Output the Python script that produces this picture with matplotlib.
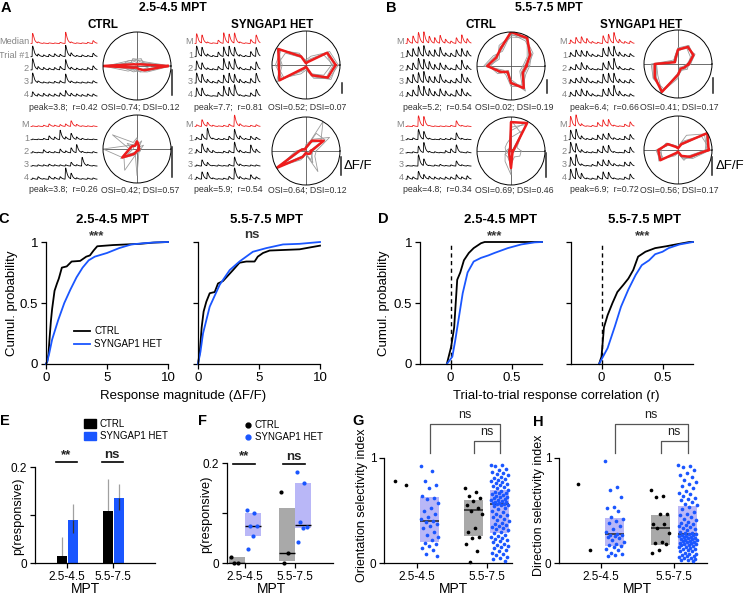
import numpy as np
import matplotlib
matplotlib.use("Agg")
import matplotlib.pyplot as plt
from matplotlib.patches import Patch
from matplotlib.lines import Line2D

plt.rcParams['font.family'] = ['Liberation Sans', 'DejaVu Sans']

W, H = 748, 597
BLUE = '#1a56ff'
LAV = '#b9b7f7'
GREY = '#a9a9a9'
RED = '#ee1c1c'

# ---------------- data ----------------
dirs = np.arange(0, 360, 30)          # stimulus directions (deg)
row_long = ["Median", "Trial #1", "2", "3", "4"]
row_short = ["M", "1", "2", "3", "4"]

# A: 2.5-4.5 MPT example cells (responses per direction; median + 4 trials)
a_ctrl_top_med = [0.9, 0.1, 0.05, 0.05, 0.05, 0.1, 1.0, 0.1, 0.05, 0.05, 0.1, 0.25]
a_ctrl_top_trials = [[0.95, 0.2, 0.15, 0.2, 0.25, 0.2, 1.0, 0.3, 0.1, 0.15, 0.1, 0.3],
                     [1.0, 0.25, 0.2, 0.15, 0.2, 0.3, 0.9, 0.2, 0.15, 0.1, 0.2, 0.35],
                     [0.9, 0.15, 0.1, 0.1, 0.15, 0.2, 0.8, 0.15, 0.1, 0.1, 0.1, 0.2],
                     [0.4, 0.2, 0.25, 0.2, 0.2, 0.3, 0.5, 0.25, 0.2, 0.15, 0.2, 0.2]]
a_het_top_med = [0.87, 0.72, 0.1, 0.05, 0.29, 0.94, 0.8, 0.9, 0.1, 0.05, 0.35, 0.74]
a_het_top_trials = [[0.95, 0.8, 0.2, 0.1, 0.4, 0.85, 0.9, 0.8, 0.15, 0.1, 0.45, 0.8],
                    [0.8, 0.6, 0.15, 0.1, 0.3, 1.0, 0.7, 0.95, 0.2, 0.1, 0.3, 0.7],
                    [0.9, 0.75, 0.3, 0.15, 0.25, 0.7, 0.85, 0.75, 0.3, 0.15, 0.4, 0.85],
                    [0.75, 0.7, 0.1, 0.05, 0.35, 0.9, 0.75, 1.0, 0.1, 0.1, 0.3, 0.6]]
a_ctrl_bot_med = [0.05, 0.05, 0.1, 0.2, 0.1, 0.15, 0.2, 0.45, 0.15, 0.05, 0.05, 0.05]
a_ctrl_bot_trials = [[0.05, 0.05, 0.1, 0.3, 0.2, 0.75, 0.2, 0.5, 0.2, 0.1, 0.05, 0.05],
                     [0.1, 0.05, 0.25, 0.1, 0.1, 0.3, 0.15, 0.4, 0.65, 0.1, 0.05, 0.1],
                     [0.05, 0.1, 0.1, 0.15, 0.1, 0.1, 0.1, 0.3, 0.1, 0.7, 0.1, 0.05],
                     [0.1, 0.2, 0.05, 0.25, 0.15, 0.2, 0.9, 0.45, 0.1, 0.05, 0.1, 0.1]]
a_het_bot_med = [0.15, 0.6, 0.35, 0.1, 0.05, 0.1, 0.2, 1.0, 0.2, 0.05, 0.1, 0.15]
a_het_bot_trials = [[0.2, 0.5, 1.0, 0.1, 0.1, 0.1, 0.3, 0.9, 0.3, 0.1, 0.3, 0.2],
                    [0.3, 0.8, 0.4, 0.2, 0.05, 0.15, 0.2, 0.95, 0.2, 0.1, 0.7, 0.3],
                    [0.1, 0.55, 0.3, 0.05, 0.1, 0.05, 0.15, 0.8, 0.15, 0.05, 0.1, 0.1],
                    [0.2, 0.65, 0.6, 0.1, 0.05, 0.1, 0.25, 1.0, 0.2, 0.1, 0.4, 0.2]]

# B: 5.5-7.5 MPT example cells
b_ctrl_top_med = [0.45, 0.65, 0.95, 1.0, 0.6, 0.5, 0.7, 0.35, 0.2, 0.5, 0.75, 0.4]
b_ctrl_top_trials = [[0.55, 0.7, 0.85, 0.95, 0.5, 0.6, 0.8, 0.3, 0.3, 0.6, 0.7, 0.5],
                     [0.4, 0.6, 1.0, 0.9, 0.7, 0.45, 0.6, 0.4, 0.15, 0.45, 0.85, 0.35],
                     [0.5, 0.75, 0.9, 1.0, 0.55, 0.55, 0.75, 0.25, 0.25, 0.4, 0.8, 0.45],
                     [0.35, 0.55, 0.95, 0.85, 0.65, 0.4, 0.65, 0.45, 0.2, 0.55, 0.65, 0.3]]
b_het_top_med = [0.3, 0.5, 0.55, 0.4, 0.15, 0.1, 0.65, 0.75, 0.9, 0.3, 0.15, 0.2]
b_het_top_trials = [[0.35, 0.55, 0.5, 0.45, 0.2, 0.15, 0.7, 0.8, 0.85, 0.35, 0.2, 0.25],
                    [0.25, 0.45, 0.6, 0.35, 0.1, 0.1, 0.6, 0.7, 0.95, 0.25, 0.1, 0.15],
                    [0.3, 0.4, 0.5, 0.4, 0.15, 0.2, 0.75, 0.8, 0.8, 0.3, 0.2, 0.3],
                    [0.35, 0.5, 0.6, 0.45, 0.2, 0.1, 0.6, 0.65, 0.9, 0.4, 0.15, 0.2]]
b_ctrl_bot_med = [0.05, 0.1, 0.95, 0.85, 0.05, 0.05, 0.05, 0.05, 0.1, 0.5, 0.08, 0.05]
b_ctrl_bot_trials = [[0.1, 0.15, 0.9, 0.7, 0.1, 0.05, 0.1, 0.1, 0.15, 0.6, 0.1, 0.05],
                     [0.05, 0.1, 0.6, 0.9, 0.1, 0.1, 0.05, 0.2, 0.35, 0.7, 0.05, 0.1],
                     [0.05, 0.05, 1.0, 0.6, 0.05, 0.1, 0.15, 0.05, 0.1, 0.45, 0.1, 0.05],
                     [0.3, 0.2, 0.7, 0.4, 0.25, 0.2, 0.15, 0.2, 0.2, 0.4, 0.2, 0.3]]
b_het_bot_med = [0.9, 1.0, 0.2, 0.05, 0.1, 0.35, 0.58, 0.6, 0.1, 0.05, 0.2, 0.4]
b_het_bot_trials = [[0.85, 0.9, 0.3, 0.1, 0.15, 0.4, 0.5, 0.55, 0.15, 0.1, 0.3, 0.45],
                    [0.95, 0.8, 0.25, 0.1, 0.1, 0.3, 0.6, 0.65, 0.1, 0.05, 0.25, 0.5],
                    [0.8, 1.0, 0.15, 0.05, 0.15, 0.4, 0.55, 0.5, 0.2, 0.1, 0.35, 0.35],
                    [0.9, 0.95, 0.5, 0.1, 0.1, 0.3, 0.65, 0.6, 0.1, 0.05, 0.2, 0.45]]

# C: cumulative distributions of response magnitude
c_early_ctrl_x = [0, 0.1, 0.2, 0.3, 0.4, 0.5, 0.7, 0.9, 1.05, 1.3, 1.7, 2.1, 2.8, 3.3, 3.6, 3.9, 4.2, 5.5, 7.7, 8.8, 10]
c_early_ctrl_y = [0, 0.02, 0.08, 0.22, 0.35, 0.45, 0.6, 0.66, 0.7, 0.79, 0.8, 0.84, 0.845, 0.88, 0.89, 0.93, 0.965, 0.975, 0.985, 0.995, 1.0]
c_early_het_x = [0, 0.1, 0.25, 0.5, 1.0, 1.5, 2.0, 2.5, 3.0, 3.5, 4.0, 5.0, 6.0, 7.0, 8.0, 9.0, 10]
c_early_het_y = [0, 0.02, 0.08, 0.2, 0.36, 0.5, 0.61, 0.71, 0.79, 0.85, 0.88, 0.91, 0.95, 0.98, 0.99, 0.997, 1.0]
c_late_ctrl_x = [0, 0.15, 0.3, 0.46, 0.68, 0.96, 1.37, 1.64, 2.05, 2.87, 3.4, 3.96, 4.64, 4.9, 5.33, 5.87, 8.33, 9.15, 10]
c_late_ctrl_y = [0, 0.1, 0.3, 0.43, 0.51, 0.58, 0.59, 0.66, 0.68, 0.77, 0.83, 0.84, 0.84, 0.88, 0.91, 0.93, 0.94, 0.955, 0.97]
c_late_het_x = [0, 0.2, 0.41, 0.96, 1.78, 2.6, 3.4, 4.5, 5.6, 6.97, 8.33, 10]
c_late_het_y = [0, 0.1, 0.25, 0.47, 0.65, 0.77, 0.84, 0.92, 0.95, 0.98, 0.985, 1.0]

# D: cumulative distributions of trial-to-trial correlation
d_early_ctrl_x = [-0.03, 0.005, 0.03, 0.055, 0.08, 0.11, 0.15, 0.19, 0.25, 0.28, 0.75]
d_early_ctrl_y = [0, 0.14, 0.3, 0.69, 0.75, 0.85, 0.91, 0.95, 0.99, 1.0, 1.0]
d_early_het_x = [-0.03, 0.015, 0.04, 0.07, 0.1, 0.14, 0.19, 0.25, 0.31, 0.36, 0.47, 0.58, 0.69, 0.75]
d_early_het_y = [0, 0.06, 0.2, 0.39, 0.58, 0.75, 0.84, 0.87, 0.89, 0.91, 0.95, 0.98, 0.997, 1.0]
d_late_ctrl_x = [-0.02, 0.0, 0.02, 0.05, 0.09, 0.13, 0.18, 0.22, 0.26, 0.3, 0.36, 0.44, 0.53, 0.61, 0.72, 0.75]
d_late_ctrl_y = [0, 0.06, 0.3, 0.4, 0.5, 0.59, 0.65, 0.7, 0.77, 0.88, 0.92, 0.95, 0.965, 0.98, 1.0, 1.0]
d_late_het_x = [-0.02, 0.05, 0.11, 0.16, 0.22, 0.28, 0.33, 0.39, 0.44, 0.5, 0.55, 0.64, 0.75]
d_late_het_y = [0, 0.13, 0.31, 0.47, 0.61, 0.73, 0.81, 0.85, 0.9, 0.92, 0.95, 0.98, 1.0]

# E: fraction responsive (mean with error range)
groups = ["2.5-4.5", "5.5-7.5"]
e_ctrl = [0.015, 0.108]
e_het = [0.09, 0.135]
e_ctrl_lo = [0.0, 0.045]
e_ctrl_hi = [0.054, 0.175]
e_het_lo = [0.062, 0.11]
e_het_hi = [0.123, 0.165]

# F: fraction responsive per animal, box = (q1, median, q3)
f_ctrl_pts = [[0.012, 0.0, 0.0], [0.142, 0.02, 0.0]]
f_het_pts = [[0.106, 0.101, 0.075, 0.074, 0.054, 0.028], [0.183, 0.16, 0.083, 0.072, 0.071, 0.043]]
f_ctrl_box = [(0.0, 0.0, 0.012), (0.004, 0.02, 0.111)]
f_het_box = [(0.054, 0.074, 0.1), (0.07, 0.076, 0.16)]

# G: orientation selectivity index per cell
g_ctrl_early = [0.78, 0.74]
g_het_early = [0.92, 0.88, 0.78, 0.74, 0.71, 0.64, 0.62, 0.61, 0.57, 0.52, 0.5, 0.47, 0.44, 0.42, 0.40,
               0.39, 0.37, 0.35, 0.33, 0.30, 0.27, 0.25, 0.22, 0.19, 0.18, 0.16, 0.14, 0.12, 0.09, 0.07]
g_ctrl_late = [0.71, 0.68, 0.64, 0.62, 0.59, 0.55, 0.52, 0.5, 0.47, 0.33, 0.3, 0.25, 0.24, 0.18, 0.11, 0.01]
g_het_late = [0.93, 0.93, 0.92, 0.90, 0.89, 0.87, 0.86, 0.85, 0.84, 0.82, 0.81, 0.80, 0.79, 0.78, 0.77,
              0.76, 0.75, 0.74, 0.73, 0.72, 0.71, 0.70, 0.69, 0.68, 0.67, 0.67, 0.66, 0.65, 0.64, 0.63,
              0.63, 0.62, 0.61, 0.60, 0.60, 0.59, 0.58, 0.58, 0.57, 0.57, 0.56, 0.56, 0.55, 0.55, 0.54,
              0.52, 0.51, 0.50, 0.49, 0.47, 0.46, 0.45, 0.44, 0.42, 0.41, 0.40, 0.38, 0.37, 0.36, 0.35,
              0.34, 0.33, 0.32, 0.31, 0.30, 0.29, 0.27, 0.26, 0.25, 0.24, 0.23, 0.22, 0.21, 0.20, 0.18,
              0.17, 0.16, 0.15, 0.14, 0.12, 0.11, 0.10, 0.09, 0.08, 0.06, 0.05, 0.04, 0.02]
g_box_ctrl = [None, (0.257, 0.505, 0.6)]
g_box_het = [(0.2, 0.4, 0.63), (0.285, 0.56, 0.695)]

# H: direction selectivity index per cell
h_ctrl_early = [0.75, 0.12]
h_het_early = [0.97, 0.72, 0.7, 0.63, 0.53, 0.52, 0.5, 0.44, 0.42, 0.40, 0.38, 0.35, 0.32, 0.30, 0.28, 0.27,
               0.27, 0.26, 0.25, 0.24, 0.22, 0.2, 0.18, 0.17, 0.16, 0.15, 0.13, 0.12, 0.1, 0.09, 0.08, 0.07]
h_ctrl_late = [0.70, 0.64, 0.63, 0.47, 0.47, 0.37, 0.37, 0.33, 0.29, 0.20, 0.19, 0.18, 0.12, 0.10]
h_het_late = [0.93, 0.92, 0.91, 0.89, 0.86, 0.84, 0.82, 0.79, 0.77, 0.75, 0.73, 0.71, 0.69, 0.67, 0.66,
              0.64, 0.62, 0.61, 0.60, 0.58, 0.56, 0.55, 0.53, 0.51, 0.49, 0.47, 0.46, 0.44, 0.42, 0.41,
              0.39, 0.38, 0.37, 0.36, 0.35, 0.34, 0.33, 0.32, 0.31, 0.30, 0.29, 0.29, 0.28, 0.28, 0.27,
              0.27, 0.26, 0.26, 0.25, 0.25, 0.24, 0.24, 0.23, 0.23, 0.22, 0.22, 0.21, 0.21, 0.20, 0.20,
              0.19, 0.19, 0.18, 0.18, 0.17, 0.17, 0.16, 0.15, 0.15, 0.14, 0.13, 0.13, 0.12, 0.11, 0.11,
              0.10, 0.09, 0.09, 0.08, 0.07, 0.07, 0.06, 0.05, 0.05, 0.04, 0.03, 0.03, 0.02]
h_box_ctrl = [None, (0.17, 0.33, 0.457)]
h_box_het = [(0.16, 0.276, 0.43), (0.16, 0.276, 0.54)]

# ---------------- helpers ----------------
fig = plt.figure(figsize=(W / 100, H / 100), dpi=100)


def rect(x0, y0, x1, y1):
    return [x0 / W, 1 - y1 / H, (x1 - x0) / W, (y1 - y0) / H]


def ftext(x, y, s, **kw):
    kw.setdefault('ha', 'center')
    kw.setdefault('va', 'center')
    fig.text(x / W, 1 - y / H, s, **kw)


t = np.linspace(0, 12, 720)


def kernel(s):
    s = np.clip(s, 0, None)
    return np.where(s > 0, (1 - np.exp(-s / 0.06)) * np.exp(-s / 0.3), 0.0)


KMAX = kernel(t).max()


def trace(amps):
    return sum(a * kernel(t - i - 0.2) for i, a in enumerate(amps)) / KMAX


def add_traces(x0, x1, base, med, trials, labels):
    unit = 13.2
    ax = fig.add_axes(rect(x0, base - unit, x1, base + 4.25 * unit))
    ax.set_xlim(0, 12)
    ax.set_ylim(-4.25, 1.0)
    ax.axis('off')
    scale = max(np.max(trials), np.max(med))
    for r, amps in enumerate([med] + list(trials)):
        y = -r + 0.85 * trace(np.array(amps) / scale)
        ax.plot(t, y, color=RED if r == 0 else 'black', lw=0.6, clip_on=False)
        ax.text(-0.35, -r + 0.12, labels[r], ha='right', va='center', fontsize=6.6, color='#858585')


def add_polar(cx, cy, med, trials):
    R = 34
    ax = fig.add_axes(rect(cx - R, cy - R, cx + R, cy + R), projection='polar')
    th = np.deg2rad(np.append(dirs, dirs[0]))
    rmax = max(np.max(trials), np.max(med)) * 1.0
    ax.plot([0, 0, np.pi], [rmax, 0, rmax], color='#555555', lw=0.6)
    ax.plot([np.pi / 2, 0, 3 * np.pi / 2], [rmax, 0, rmax], color='#555555', lw=0.6)
    for tr in trials:
        ax.plot(th, np.append(tr, tr[0]), color='#9b9b9b', lw=0.6)
    ax.plot(th, np.append(med, med[0]), color=RED, lw=1.8)
    ax.set_ylim(0, rmax)
    ax.set_xticks([])
    ax.set_yticks([])
    ax.grid(False)
    ax.spines['polar'].set_linewidth(0.7)


cells = [
    dict(tr=(31, 97), base=43.5, med=a_ctrl_top_med, trials=a_ctrl_top_trials, labels=row_long,
         pol=(137, 66), caps=("peak=3.8;  r=0.42", "OSI=0.74; DSI=0.12"), capx=(63, 140), capy=107),
    dict(tr=(195, 260), base=43.5, med=a_het_top_med, trials=a_het_top_trials, labels=row_short,
         pol=(306, 65), caps=("peak=7.7;  r=0.81", "OSI=0.52; DSI=0.07"), capx=(228, 307), capy=107),
    dict(tr=(31, 97), base=126.5, med=a_ctrl_bot_med, trials=a_ctrl_bot_trials, labels=row_short,
         pol=(137, 149), caps=("peak=3.8;  r=0.26", "OSI=0.42; DSI=0.57"), capx=(63, 140), capy=190),
    dict(tr=(195, 260), base=126.5, med=a_het_bot_med, trials=a_het_bot_trials, labels=row_short,
         pol=(306, 151), caps=("peak=5.9;  r=0.54", "OSI=0.64; DSI=0.12"), capx=(228, 307), capy=190),
    dict(tr=(406, 471), base=43.5, med=b_ctrl_top_med, trials=b_ctrl_top_trials, labels=row_short,
         pol=(511, 66), caps=("peak=5.2;  r=0.54", "OSI=0.02; DSI=0.19"), capx=(437, 514), capy=107),
    dict(tr=(569, 634), base=43.5, med=b_het_top_med, trials=b_het_top_trials, labels=row_short,
         pol=(678, 64), caps=("peak=6.4;  r=0.66", "OSI=0.41; DSI=0.17"), capx=(604, 679), capy=107),
    dict(tr=(406, 471), base=126.5, med=b_ctrl_bot_med, trials=b_ctrl_bot_trials, labels=row_short,
         pol=(511, 151), caps=("peak=4.8;  r=0.34", "OSI=0.69; DSI=0.46"), capx=(437, 514), capy=190),
    dict(tr=(569, 634), base=126.5, med=b_het_bot_med, trials=b_het_bot_trials, labels=row_short,
         pol=(678, 150), caps=("peak=6.9;  r=0.72", "OSI=0.56; DSI=0.17"), capx=(604, 679), capy=190),
]

for c in cells:
    add_traces(c['tr'][0], c['tr'][1], c['base'], c['med'], c['trials'], c['labels'])
    add_polar(c['pol'][0], c['pol'][1], c['med'], c['trials'])
    ftext(c['capx'][0], c['capy'], c['caps'][0], fontsize=6.3, color='#333333')
    ftext(c['capx'][1], c['capy'], c['caps'][1], fontsize=6.3, color='#333333')

# panel letters and headers
for s, x, y in [("A", 6, 8), ("B", 391, 8), ("C", 4, 219), ("D", 383, 219),
                ("E", 5, 421), ("F", 203, 421), ("G", 358, 421), ("H", 538, 422)]:
    ftext(x, y, s, fontsize=10.5, fontweight='bold')
ftext(173, 8, "2.5-4.5 MPT", fontsize=8.8, fontweight='bold')
ftext(549, 8, "5.5-7.5 MPT", fontsize=8.8, fontweight='bold')
for x, s in [(103, "CTRL"), (272, "SYNGAP1 HET"), (481, "CTRL"), (641, "SYNGAP1 HET")]:
    ftext(x, 25, s, fontsize=8.4, fontweight='bold')
ftext(344, 166, "ΔF/F", fontsize=9.5, ha='left')
ftext(716, 166, "ΔF/F", fontsize=9.5, ha='left')


def style(ax, size=8.5):
    for sp in ['top', 'right']:
        ax.spines[sp].set_visible(False)
    for sp in ['left', 'bottom']:
        ax.spines[sp].set_linewidth(0.9)
    ax.tick_params(direction='out', length=3.5, width=0.9, labelsize=size, pad=2)


# ---------------- C & D ----------------
cdf_panels = [
    ((46, 168), (0, 10), c_early_ctrl_x, c_early_ctrl_y, c_early_het_x, c_early_het_y, "2.5-4.5 MPT", "***", 113, 97),
    ((198, 320), (0, 10), c_late_ctrl_x, c_late_ctrl_y, c_late_het_x, c_late_het_y, "5.5-7.5 MPT", "ns", 267, 252),
    ((420, 542), (-0.25, 0.75), d_early_ctrl_x, d_early_ctrl_y, d_early_het_x, d_early_het_y, "2.5-4.5 MPT", "***", 500, 495),
    ((571, 693), (-0.25, 0.75), d_late_ctrl_x, d_late_ctrl_y, d_late_het_x, d_late_het_y, "5.5-7.5 MPT", "***", 645, 643),
]
for i, (xs, xl, cx_, cy_, hx_, hy_, title, sig, tx, sx) in enumerate(cdf_panels):
    ax = fig.add_axes(rect(xs[0], 242, xs[1], 364))
    style(ax, 9.5)
    ax.set_xlim(*xl)
    ax.set_ylim(0, 1)
    if i >= 2:
        ax.plot([0, 0], [0, 1], color='k', lw=1.0, ls=(0, (3, 2.5)))
        ax.set_xticks([0, 0.5])
        ax.set_xticklabels(["0", "0.5"])
    else:
        ax.set_xticks([0, 5, 10])
    ax.set_yticks([0, 0.5, 1])
    if i % 2 == 0:
        ax.set_yticklabels(["0", "0.5", "1"])
    else:
        ax.set_yticklabels([])
    l1, = ax.plot(cx_, cy_, color='k', lw=1.3, clip_on=False)
    l2, = ax.plot(hx_, hy_, color=BLUE, lw=1.3, clip_on=False)
    ftext(tx, 220, title, fontsize=9.5, fontweight='bold')
    ftext(sx, 236 if sig != "ns" else 235, sig, fontsize=9.5, fontweight='bold', color='#333333')
    if i == 0:
        ax.legend([l1, l2], ["CTRL", "SYNGAP1 HET"], loc='upper left', bbox_to_anchor=(0.23, 0.31),
                  frameon=False, fontsize=7, handlelength=1.6, handletextpad=0.5, labelspacing=0.3,
                  borderpad=0, borderaxespad=0)
ftext(12, 303, "Cumul. probability", fontsize=9.5, rotation=90)
ftext(384, 303, "Cumul. probability", fontsize=9.5, rotation=90)
ftext(183, 396, "Response magnitude (ΔF/F)", fontsize=9.5)
ftext(556, 396, "Trial-to-trial response correlation (r)", fontsize=9.5)

x = np.arange(len(groups))

# ---------------- E ----------------
ax = fig.add_axes(rect(35, 467, 155, 563))
style(ax)
ax.set_xlim(-0.7, 1.91)
ax.set_ylim(0, 0.2)
bw = 0.22
ax.bar(x - 0.12, e_ctrl, bw, color='black', zorder=2)
ax.bar(x + 0.12, e_het, bw, color=BLUE, zorder=2)
ax.vlines(x - 0.12, e_ctrl_lo, e_ctrl_hi, color='#a0a0a0', lw=0.9, zorder=1)
ax.vlines(x + 0.12, e_het_lo, e_het_hi, color='#a0a0a0', lw=0.9, zorder=1)
ax.vlines(x + 0.12, e_het_lo, np.minimum(e_het_hi, e_het), color='#333333', lw=0.9, zorder=3)
ax.set_yticks([0, 0.1, 0.2])
ax.set_yticklabels(["0", "", "0.2"])
ax.set_xticks(x)
ax.set_xticklabels(groups)
ftext(86, 589, "MPT", fontsize=10)
ftext(18, 516, "p(responsive)", fontsize=9.2, rotation=90)
for g, s in zip(x, ["**", "ns"]):
    ax.plot([g - 0.25, g + 0.22], [0.21, 0.21], color='k', lw=1.2, clip_on=False)
    ax.text(g - 0.02, 0.213, s, ha='center', va='bottom', fontsize=9.5, fontweight='bold', color='#222222')
ax.legend([Patch(color='black'), Patch(color=BLUE)], ["CTRL", "SYNGAP1 HET"], loc='upper left',
          bbox_to_anchor=(0.41, 1.5), frameon=False, fontsize=7, handlelength=1.2, handleheight=1.0,
          handletextpad=0.4, labelspacing=0.25, borderpad=0, borderaxespad=0)

# ---------------- F ----------------
ax = fig.add_axes(rect(227, 463, 333, 563))
style(ax)
ax.set_xlim(-0.36, 1.76)
ax.set_ylim(0, 0.2)
off, bw = 0.16, 0.32
for g in x:
    for pts, box, sgn, fc, pc in [(f_ctrl_pts[g], f_ctrl_box[g], -1, GREY, 'black'),
                                  (f_het_pts[g], f_het_box[g], 1, LAV, BLUE)]:
        xc = g + sgn * off
        ax.bar(xc, box[2] - box[0], bw, bottom=box[0], color=fc, zorder=1)
        ax.hlines(box[1], xc - bw / 2, xc + bw / 2, color='black', lw=1.0, zorder=2)
        n = len(pts)
        jit = ((np.arange(n) * 0.618034) % 1 - 0.5) * bw * 0.7
        ax.scatter(xc + jit, pts, s=9, color=pc, zorder=3, linewidths=0, clip_on=False)
ax.set_yticks([0, 0.1, 0.2])
ax.set_yticklabels(["0", "", "0.2"])
ax.set_xticks(x)
ax.set_xticklabels(groups)
ftext(272, 589, "MPT", fontsize=10)
ftext(206, 514, "p(responsive)", fontsize=9.2, rotation=90)
for g, s in zip(x, ["**", "ns"]):
    ax.plot([g - 0.24, g + 0.2], [0.198, 0.198], color='k', lw=1.2, clip_on=False)
    ax.text(g - 0.02, 0.201, s, ha='center', va='bottom', fontsize=9.5, fontweight='bold', color='#222222')
ax.legend([Line2D([], [], marker='o', ls='', color='black', markersize=3.5),
           Line2D([], [], marker='o', ls='', color=BLUE, markersize=3.5)],
          ["CTRL", "SYNGAP1 HET"], loc='upper left', bbox_to_anchor=(0.16, 1.43), frameon=False,
          fontsize=7, handlelength=0.8, handletextpad=0.3, labelspacing=0.2, borderpad=0, borderaxespad=0)


# ---------------- G & H ----------------
def scatter_panel(xpx, xlim, ctrl_pts, het_pts, box_ctrl, box_het, ylabel, ylab_x, mpt_x):
    ax = fig.add_axes(rect(xpx[0], 458, xpx[1], 563))
    style(ax)
    ax.set_xlim(*xlim)
    ax.set_ylim(0, 1)
    off, bw = 0.185, 0.27
    centers = {}
    for g in x:
        for key, pts, box, sgn, fc, pc in [('c', ctrl_pts[g], box_ctrl[g], -1, GREY, 'black'),
                                           ('h', het_pts[g], box_het[g], 1, LAV, BLUE)]:
            xc = g + sgn * off
            centers[(key, g)] = xc
            if box is not None:
                ax.bar(xc, box[2] - box[0], bw, bottom=box[0], color=fc, zorder=1)
                ax.hlines(box[1], xc - bw / 2, xc + bw / 2, color='#222222', lw=1.1, zorder=2)
            n = len(pts)
            jit = ((np.arange(n) * 0.618034) % 1 - 0.5) * bw * 0.95
            ax.scatter(xc + jit, pts, s=7, color=pc, zorder=3, linewidths=0, clip_on=False)
    ax.set_yticks([0, 1])
    ax.set_yticklabels(["0", "1"])
    ax.set_xticks(x)
    ax.set_xticklabels(groups)
    ftext(mpt_x, 589, "MPT", fontsize=10)
    # significance brackets
    xa, xb, xcl = centers[('h', 0)], centers[('h', 1)], centers[('c', 1)]
    bk = dict(color='#555555', lw=0.9, clip_on=False)
    ax.plot([xa, xa, xb, xb], [1.05, 1.32, 1.32, 1.05], **bk)
    ax.plot([xcl, xcl, xb], [1.05, 1.16, 1.16], **bk)
    ax.text((xa + xb) / 2, 1.35, "ns", ha='center', va='bottom', fontsize=9, color='#222222')
    ax.text((xcl + xb) / 2, 1.19, "ns", ha='center', va='bottom', fontsize=9, color='#222222')
    ftext(ylab_x, 505, ylabel, fontsize=9, rotation=90)
    return ax


scatter_panel((384, 512), (-0.47, 1.36), [g_ctrl_early, g_ctrl_late], [g_het_early, g_het_late],
              g_box_ctrl, g_box_het, "Orientation selectivity index", 362, 454)
scatter_panel((559, 707), (-0.575, 1.45), [h_ctrl_early, h_ctrl_late], [h_het_early, h_het_late],
              h_box_ctrl, h_box_het, "Direction selectivity index", 539, 637)

# scale bars (annotation overlay in pixel coordinates)
ov = fig.add_axes([0, 0, 1, 1])
ov.set_xlim(0, W)
ov.set_ylim(H, 0)
ov.axis('off')
for bx, y0, y1 in [(172, 70, 95), (342, 83, 93), (172, 147, 177), (341, 157, 175),
                   (547, 80, 93), (713, 78, 93), (546, 153, 177), (712, 157, 175)]:
    ov.plot([bx, bx], [y0, y1], color='#222222', lw=1.1)

fig.savefig("out.png", dpi=100)
plt.close(fig)
